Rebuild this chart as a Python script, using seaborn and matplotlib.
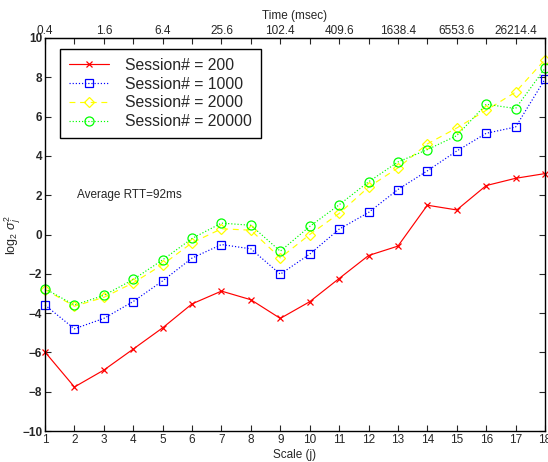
import numpy as np
import pandas as pd
import matplotlib
matplotlib.use("Agg")
import matplotlib.pyplot as plt
import seaborn as sns

scale = list(range(1, 19))
s200 = [-5.98, -7.76, -6.90, -5.83, -4.75, -3.53, -2.88, -3.32, -4.27, -3.42, -2.24,
        -1.07, -0.59, 1.49, 1.25, 2.49, 2.86, 3.10]
s1000 = [-3.59, -4.80, -4.27, -3.41, -2.36, -1.20, -0.51, -0.73, -2.02, -1.00, 0.27,
         1.12, 2.29, 3.24, 4.25, 5.15, 5.47, 7.91]
s2000 = [-2.80, -3.65, -3.20, -2.46, -1.53, -0.42, 0.29, 0.22, -1.19, 0.00, 1.07,
         2.41, 3.39, 4.61, 5.42, 6.32, 7.25, 8.90]
s20000 = [-2.76, -3.59, -3.10, -2.29, -1.29, -0.20, 0.58, 0.47, -0.85, 0.41, 1.51,
          2.68, 3.69, 4.32, 5.03, 6.63, 6.41, 8.46]
labels = ["Session# = 200", "Session# = 1000", "Session# = 2000", "Session# = 20000"]
top_labels = ["0.4", "1.6", "6.4", "25.6", "102.4", "409.6", "1638.4", "6553.6", "26214.4"]

sns.set_style("ticks")
plt.rcParams["font.family"] = ["Liberation Sans", "DejaVu Sans"]
plt.rcParams["mathtext.fontset"] = "custom"
plt.rcParams["mathtext.rm"] = "Liberation Sans"
plt.rcParams["mathtext.it"] = "Liberation Sans:italic"

fig = plt.figure(figsize=(5.48, 4.62), dpi=100)
ax = fig.add_axes([45/548, 31/462, 500/548, 393/462])

series = [s200, s1000, s2000, s20000]
colors = ["#ff0000", "#0000ff", "#ffff00", "#00ff00"]
styles = ["-", ":", (0, (5, 4)), ":"]
markers = ["x", "s", "D", "o"]
msizes = [4.5, 5.5, 5.0, 6.5]

for vals, lab, c, ls, m, ms in zip(series, labels, colors, styles, markers, msizes):
    df = pd.DataFrame({"scale": scale, "val": vals})
    sns.lineplot(data=df, x="scale", y="val", ax=ax, color=c, linestyle=ls, linewidth=0.85,
                 marker=m, markersize=ms, markerfacecolor="none",
                 markeredgecolor=c, markeredgewidth=0.9, label=lab, clip_on=False)

ax.set_xlim(1, 18)
ax.set_ylim(-10, 10)
ax.set_xticks(scale)
ax.set_yticks(range(-10, 11, 2))
ax.set_yticklabels([str(v).replace("-", "\u2212") for v in range(-10, 11, 2)],
                   fontweight="bold")
ax.tick_params(direction="in", length=4, width=0.8, labelsize=8.5, pad=2,
               top=False, right=True)
for sp in ax.spines.values():
    sp.set_linewidth(1.0)
    sp.set_color("black")
ax.set_xlabel("Scale (j)", fontsize=8.5, labelpad=2)
ax.set_ylabel(r"$\log_2\,\sigma_j^2$", fontsize=9)
ax.yaxis.set_label_coords(-22/500, 0.5)

secax = ax.secondary_xaxis("top")
secax.set_xticks(scale)
secax.set_xticklabels([top_labels[i // 2] if i % 2 == 0 else "" for i in range(18)])
secax.tick_params(direction="in", length=4, width=0.8, labelsize=8.5, pad=1)
secax.set_xlabel("Time (msec)", fontsize=8.5, labelpad=4)

ax.text(2.1, 2.0, "Average RTT=92ms", fontsize=8.5, va="center", ha="left")

leg = ax.legend(loc="upper left", bbox_to_anchor=(15/500, 1 - 11/393), borderaxespad=0,
                fontsize=11.3, handlelength=2.6, handletextpad=1.0, borderpad=0.55,
                labelspacing=0.25, frameon=True, fancybox=False, edgecolor="black",
                framealpha=1)
leg.get_frame().set_linewidth(1.0)

fig.savefig("out.png", dpi=100)
